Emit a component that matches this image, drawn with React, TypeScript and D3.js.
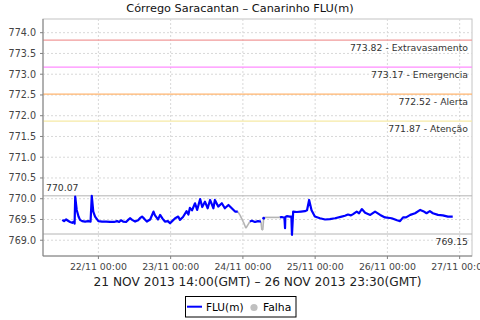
import React from "react";
import * as d3 from "d3";

// ---- data (hours since 21/11/2013 00:00, axis time) ----
const levelHours = [
  12.0, 12.6, 13.3, 13.9, 14.6, 15.3, 15.8, 16.1, 16.3, 16.8, 17.4, 17.9, 18.6, 19.6, 20.6, 21.4,
  21.8, 22.3, 22.9, 24.0, 25.2, 26.6, 27.9, 29.2, 30.2, 30.9, 31.5, 32.2, 33.2, 33.9, 34.5, 35.2,
  36.2, 37.2, 37.8, 38.5, 39.2, 40.1, 41.2, 42.3, 42.8, 43.8, 44.5, 45.3, 46.1, 47.1, 47.8, 48.5,
  49.5, 50.5, 51.1, 52.1, 53.3, 53.9, 54.4, 55.1, 56.1, 56.8, 57.8, 58.5, 59.4, 60.3, 61.1, 62.2,
  62.7, 63.8, 65.0, 66.0, 67.2, 68.3, 69.4, 70.3, 71.0, 72.1, 73.0, 74.3, 75.0, 76.0, 77.0, 78.0,
  78.3, 78.6, 78.9, 79.2, 84.0, 84.3, 84.9, 85.8, 86.0, 86.1, 86.6, 87.6, 88.1, 88.3, 88.7, 89.9,
  91.3, 92.6, 93.3, 94.0, 94.8, 95.9, 97.6, 99.3, 100.9, 102.6, 104.8, 105.9, 106.9, 107.9, 108.6,
  109.8, 110.6, 111.5, 112.6, 114.3, 115.9, 117.6, 119.2, 121.4, 123.2, 124.2, 125.2, 126.2, 127.6,
  129.2, 130.9, 131.9, 133.0, 134.1, 135.1, 136.8, 138.4, 140.1, 141.7,
];
const levelValues = [
  769.49, 769.46, 769.5, 769.47, 769.44, 769.42, 769.45, 769.4, 770.05, 769.73, 769.57, 769.49, 769.46, 769.45, 769.46, 769.45,
  770.07, 769.69, 769.57, 769.46, 769.45, 769.45, 769.44, 769.44, 769.46, 769.44, 769.48, 769.45, 769.44, 769.49, 769.53, 769.49,
  769.45, 769.48, 769.53, 769.57, 769.52, 769.45, 769.5, 769.69, 769.6, 769.5, 769.61, 769.52, 769.45, 769.46, 769.41, 769.46,
  769.53, 769.57, 769.49, 769.56, 769.7, 769.62, 769.78, 769.72, 769.89, 769.73, 769.99, 769.8, 769.93, 769.77, 769.97, 769.77,
  769.97, 769.81, 769.89, 769.77, 769.85, 769.77, 769.69, 769.69, 769.61, 769.45, 769.29, 769.45, 769.47, 769.44, 769.46, 769.45,
  769.25, 769.25, 769.53, 769.55, 769.55, 769.55, 769.56, 769.54, 769.29, 769.56, 769.58, 769.57, 769.57, 769.13, 769.69, 769.68,
  769.69, 769.7, 769.72, 769.97, 769.72, 769.57, 769.53, 769.5, 769.51, 769.53, 769.57, 769.59, 769.62, 769.6, 769.63,
  769.69, 769.65, 769.75, 769.66, 769.61, 769.69, 769.61, 769.55, 769.53, 769.48, 769.46, 769.55, 769.55, 769.61,
  769.65, 769.73, 769.7, 769.65, 769.7, 769.65, 769.61, 769.6, 769.57, 769.57,
];
// 1 = Falha (failure / interpolated)
const levelFalha = [
  0, 0, 0, 0, 0, 0, 0, 0, 0, 0, 0, 0, 0, 0, 0, 0,
  0, 0, 0, 0, 0, 0, 0, 0, 0, 0, 0, 0, 0, 0, 0, 0,
  0, 0, 0, 0, 0, 0, 0, 0, 0, 0, 0, 0, 0, 0, 0, 0,
  0, 0, 0, 0, 0, 0, 0, 0, 0, 0, 0, 0, 0, 0, 0, 0,
  0, 0, 0, 0, 0, 0, 0, 0, 1, 1, 1, 0, 0, 0, 0, 0,
  1, 1, 0, 1, 1, 0, 0, 0, 0, 0, 0, 0, 0, 0, 0, 0,
  0, 0, 0, 0, 0, 0, 0, 0, 0, 0, 0, 0, 0, 0, 0,
  0, 0, 0, 0, 0, 0, 0, 0, 0, 0, 0, 0, 0, 0,
  0, 0, 0, 0, 0, 0, 0, 0, 0, 0,
];

const thresholdValues = [773.82, 773.17, 772.52, 771.87];
const thresholdNames = ["Extravasamento", "Emergencia", "Alerta", "Atenção"];
const thresholdColors = ["#f09a9a", "#ff8cff", "#ffb46e", "#f6eaa6"];

const extremeValues = [770.07, 769.15]; // max / min markers
const yTickValues = [769.0, 769.5, 770.0, 770.5, 771.0, 771.5, 772.0, 772.5, 773.0, 773.5, 774.0];
const xDomainHours = [5.6, 148.1];
const yDomain = [768.62, 774.33];

const title = "Córrego Saracantan – Canarinho FLU(m)";
const xAxisTitle = "21 NOV 2013 14:00(GMT) – 26 NOV 2013 23:30(GMT)";
const legendNames = ["FLU(m)", "Falha"];

const W = 480;
const H = 320;
const FONT = "'DejaVu Sans', Verdana, sans-serif";

const base = Date.UTC(2013, 10, 21);
const toDate = (h: number) => new Date(base + h * 3600000);

export default function App() {
  const left = 43, right = 472, top = 19, bottom = 256;
  const x = d3.scaleUtc().domain(xDomainHours.map(toDate)).range([left, right]);
  const y = d3.scaleLinear().domain(yDomain).range([bottom, top]);
  const xTicks = d3.utcDay.range(x.domain()[0], x.domain()[1]);
  const fmt = d3.utcFormat("%d/%m %H:%M");

  const pts = levelHours.map((h, i) => ({ d: toDate(h), v: levelValues[i], f: levelFalha[i] }));
  const line = d3.line<{ d: Date; v: number }>().x((p) => x(p.d)).y((p) => y(p.v));

  // gray failure segments
  const graySegs: { d: Date; v: number }[][] = [];
  for (let i = 0; i < pts.length - 1; i++) {
    if (pts[i].f || pts[i + 1].f) graySegs.push([pts[i], pts[i + 1]]);
  }
  // blue runs
  const runs: { d: Date; v: number }[][] = [];
  let cur: { d: Date; v: number }[] = [];
  pts.forEach((p) => {
    if (!p.f) cur.push(p);
    else {
      if (cur.length) runs.push(cur);
      cur = [];
    }
  });
  if (cur.length) runs.push(cur);

  const tickColor = "#444";

  return (
    <svg width={W} height={H} style={{ position: "absolute", left: 0, top: 0, background: "#fff" }} fontFamily={FONT}>
      <rect x={0} y={0} width={W} height={H} fill="#fff" />
      <defs>
        <clipPath id="plotclip">
          <rect x={left} y={top} width={right - left} height={bottom - top} />
        </clipPath>
      </defs>
      {/* title */}
      <text x={240} y={12} textAnchor="middle" fontSize={11.3} fill="#111">{title}</text>

      {/* plot */}
      <rect x={left} y={top} width={right - left} height={bottom - top} fill="#fff" stroke="#c4c4c4" />
      {yTickValues.map((v) => (
        <line key={"gy" + v} x1={left} x2={right} y1={y(v)} y2={y(v)} stroke="#d8d8d8" strokeDasharray="2,2" />
      ))}
      {xTicks.map((t) => (
        <line key={"gx" + t.getTime()} x1={x(t)} x2={x(t)} y1={top} y2={bottom} stroke="#d8d8d8" strokeDasharray="2,2" />
      ))}

      {/* threshold lines */}
      {thresholdValues.map((v, i) => (
        <g key={"th" + v}>
          <line x1={left} x2={right} y1={y(v)} y2={y(v)} stroke={thresholdColors[i]} strokeWidth={1.2} />
          <text x={468} y={y(v) + 11} textAnchor="end" fontSize={9.3} fill="#333">
            {v.toFixed(2) + " - " + thresholdNames[i]}
          </text>
        </g>
      ))}
      {extremeValues.map((v) => (
        <line key={"ex" + v} x1={left} x2={right} y1={y(v)} y2={y(v)} stroke="#b4b4b4" strokeWidth={1} />
      ))}
      <text x={46} y={y(extremeValues[0]) - 5} fontSize={9.3} fill="#333">{extremeValues[0].toFixed(2)}</text>
      <text x={468} y={y(extremeValues[1]) + 11} textAnchor="end" fontSize={9.3} fill="#333">{extremeValues[1].toFixed(2)}</text>

      {/* series */}
      <g clipPath="url(#plotclip)">
        {graySegs.map((s, i) => (
          <path key={"g" + i} d={line(s) || ""} fill="none" stroke="#b4b4b4" strokeWidth={1.6} />
        ))}
        {runs.map((r, i) =>
          r.length > 1 ? (
            <path key={"b" + i} d={line(r) || ""} fill="none" stroke="#0000ff" strokeWidth={2.2} strokeLinejoin="round" />
          ) : (
            <circle key={"b" + i} cx={x(r[0].d)} cy={y(r[0].v)} r={1.4} fill="#0000ff" />
          )
        )}
      </g>

      {/* axes */}
      <line x1={left} x2={left} y1={top} y2={bottom} stroke="#808080" />
      <line x1={left} x2={right} y1={bottom} y2={bottom} stroke="#808080" />
      {yTickValues.map((v) => (
        <g key={"yt" + v}>
          <line x1={left - 3} x2={left} y1={y(v)} y2={y(v)} stroke="#808080" />
          <text x={36} y={y(v) + 3.5} textAnchor="end" fontSize={9.6} fill={tickColor}>{v.toFixed(1)}</text>
        </g>
      ))}
      {xTicks.map((t) => (
        <g key={"xt" + t.getTime()}>
          <line x1={x(t)} x2={x(t)} y1={bottom} y2={bottom + 3} stroke="#808080" />
          <text x={x(t)} y={270} textAnchor="middle" fontSize={9.4} fill={tickColor}>{fmt(t)}</text>
        </g>
      ))}
      <text x={(left + right) / 2} y={286} textAnchor="middle" fontSize={12.2} fill="#222">{xAxisTitle}</text>

      {/* legend */}
      <rect x={185.5} y={296.5} width={110.5} height={20.5} fill="#fff" stroke="#000" />
      <line x1={187} x2={202} y1={306.7} y2={306.7} stroke="#0000ff" strokeWidth={2} />
      <text x={206} y={311} fontSize={10.5} fill="#000">{legendNames[0]}</text>
      <circle cx={254} cy={307.5} r={3.6} fill="#c0c0c0" />
      <text x={263} y={311} fontSize={10.8} fill="#000">{legendNames[1]}</text>
    </svg>
  );
}
